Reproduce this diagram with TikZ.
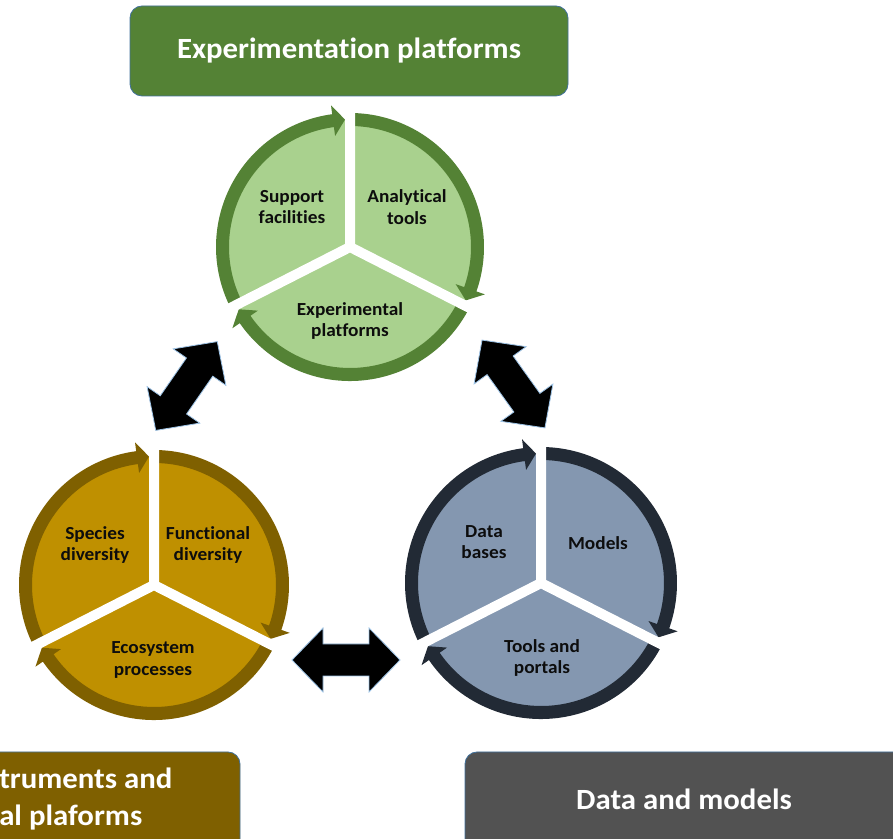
\documentclass[tikz,border=0pt]{standalone}
\usepackage{fontspec}
\setmainfont{Carlito}[Ligatures=NoCommon, FakeStretch=1.05]
\definecolor{gFill}{RGB}{169,209,142}
\definecolor{gRing}{RGB}{84,130,53}
\definecolor{oFill}{RGB}{191,144,0}
\definecolor{oRing}{RGB}{127,96,0}
\definecolor{bFill}{RGB}{132,151,176}
\definecolor{bRing}{RGB}{34,42,53}
\definecolor{dGray}{RGB}{82,82,82}
\definecolor{edgeBlue}{RGB}{65,113,156}
\definecolor{lightEdge}{RGB}{157,195,230}
\newcommand{\ringarrow}[4]{%
  \pgfmathsetmacro{\myRo}{#1}%
  \pgfmathsetmacro{\myRi}{#1-13}%
  \pgfmathsetmacro{\myRm}{#1-6.5}%
  \pgfmathsetmacro{\myHo}{\myRm+15.5}%
  \pgfmathsetmacro{\myHi}{\myRm-15.5}%
  \pgfmathsetmacro{\myBt}{#3+5/\myRm*57.2958}%
  \pgfmathsetmacro{\myBb}{\myBt+12/\myRm*57.2958}%
  \fill[#4] (#2:\myRo) arc[start angle=#2, end angle=\myBb, radius=\myRo]
    -- (\myBb:\myHo) -- (\myBt:\myRm) -- (\myBb:\myHi) -- (\myBb:\myRi)
    arc[start angle=\myBb, end angle=#2, radius=\myRi] -- cycle;
}
\newcommand{\dblarrowshape}{%
  (-54,0) -- (-23,32) -- (-23,16) -- (23,16) -- (23,32) -- (54,0) -- (23,-32) -- (23,-16) -- (-23,-16) -- (-23,-32) -- cycle}
\begin{document}
\begin{tikzpicture}[x=0.75pt,y=0.75pt,
  lbl/.style={font=\fontsize{13.8}{16}\selectfont\bfseries, align=center, text=black!95, inner sep=0},
  ttl/.style={font=\fontsize{22}{27}\selectfont\bfseries, text=white, inner sep=0},
  bigbox/.style={rounded corners=9pt, draw=edgeBlue, line width=0.6pt, inner sep=0},
  blockarrow/.style={fill=black, draw=lightEdge, line width=0.6pt, line join=miter},
  sepline/.style={white, line width=7.5pt}]
\useasboundingbox (0,0) rectangle (893,839);
\clip (0,0) rectangle (893,839);

% boxes
\node[bigbox, fill=gRing, minimum width=328.5pt, minimum height=67.5pt, ttl] (title) at (349,788) {Experimentation platforms};
\node[bigbox, fill=oRing, minimum width=255pt, minimum height=111pt] (boxbl) at (70,13) {};
\node[bigbox, fill=dGray, minimum width=375pt, minimum height=111pt] (boxbr) at (715,13) {};
\node[ttl, anchor=base west] (bltext1) at (-1,50) {truments and};
\node[ttl, anchor=base west] (bltext2) at (-1,13) {al plaforms};
\node[ttl] (brtext) at (684,40) {Data and models};

% top circle
\begin{scope}[shift={(350,592)}]
  \fill[gFill] (0,0) circle[radius=127];
  \ringarrow{134}{207}{90}{gRing}
  \ringarrow{134}{90}{-27}{gRing}
  \ringarrow{134}{-27}{-153}{gRing}
  \draw[sepline] (0,0) -- (90:146) (0,0) -- (-27:146) (0,0) -- (207:146);
\end{scope}

% bottom-left circle
\begin{scope}[shift={(154,254)}]
  \fill[oFill] (0,0) circle[radius=128];
  \ringarrow{135}{207}{90}{oRing}
  \ringarrow{135}{90}{-27}{oRing}
  \ringarrow{135}{-27}{-153}{oRing}
  \draw[sepline] (0,0) -- (90:147) (0,0) -- (-27:147) (0,0) -- (207:147);
\end{scope}

% bottom-right circle
\begin{scope}[shift={(541,256)}]
  \fill[bFill] (0,0) circle[radius=129];
  \ringarrow{136}{207}{90}{bRing}
  \ringarrow{136}{90}{-27}{bRing}
  \ringarrow{136}{-27}{-153}{bRing}
  \draw[sepline] (0,0) -- (90:148) (0,0) -- (-27:148) (0,0) -- (207:148);
\end{scope}

% labels
\node[lbl] (support) at (292,632) {Support\\facilities};
\node[lbl] (analytical) at (407,632) {Analytical\\tools};
\node[lbl] (experimental) at (350,518) {Experimental\\platforms};
\node[lbl] (species) at (95,294) {Species\\diversity};
\node[lbl] (functional) at (208,294) {Functional\\diversity};
\node[lbl] (ecosystem) at (153,179) {Ecosystem\\processes};
\node[lbl] (databases) at (484,297) {Data\\bases};
\node[lbl] (models) at (598,296) {Models};
\node[lbl] (toolsportals) at (542,181) {Tools and\\portals};

% double block arrows
\coordinate (arrL) at (186.5,453);
\coordinate (arrR) at (513.5,455);
\coordinate (arrB) at (346,179);
\draw[blockarrow, shift={(arrL)}, rotate=55.3] \dblarrowshape;
\draw[blockarrow, shift={(arrR)}, rotate=-54.4] \dblarrowshape;
\draw[blockarrow, shift={(arrB)}] \dblarrowshape;
\end{tikzpicture}
\end{document}
